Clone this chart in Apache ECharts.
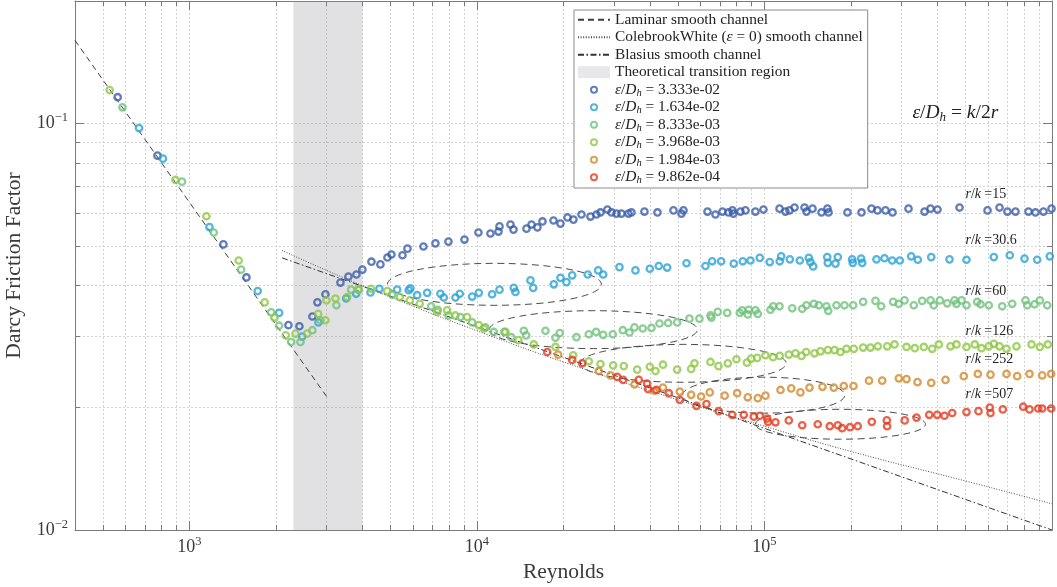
<!DOCTYPE html>
<html><head><meta charset="utf-8">
<script src="https://cdn.jsdelivr.net/npm/echarts@6/dist/echarts.min.js"></script>
<style>html,body{margin:0;padding:0;background:#fff}#c{width:1057px;height:587px}</style>
</head><body><div id="c"></div>
<script>
// ---------------- data ----------------
const xMinorTicks = [500,600,700,800,900,1000,2000,3000,4000,5000,6000,7000,8000,9000,10000,20000,30000,40000,50000,60000,70000,80000,90000,100000,200000,300000,400000,500000,600000,700000,800000,900000];
const xMajorTicks = [1000,10000,100000];
const yMinorTicks = [0.02,0.03,0.04,0.05,0.06,0.07,0.08,0.09,0.1,0.2];
const yMajorTicks = [0.01,0.1];

const laminar = [[400,0.16],[3000,0.0213]];
const colebrook = [[2100,0.0487],[3000,0.0435],[5000,0.0374],[10000,0.0309],[20000,0.0259],[50000,0.0209],[100000,0.0180],[200000,0.0156],[500000,0.0132],[1000000,0.0116]];
const blasius = [[2100,0.0467],[1000000,0.0100]];
const transition = [2300,4000];

const roughness = ['3.333e-02','1.634e-02','8.333e-03','3.968e-03','1.984e-03','9.862e-04'];
const colors = ['#3a5ca9','#2ba3d4','#6fc27c','#8fc744','#d28a2c','#e53b1f'];

const s1 = [[563,0.116],[774,0.0833],[1313,0.0504],[1579,0.0418],[2210,0.0319],[2413,0.0317],[2678,0.0335],[2787,0.0363],[2972,0.0380],[3351,0.0406],[3573,0.0420],[3809,0.0425],[3997,0.0437],[4296,0.0457],[4616,0.0450],[4883,0.0468],[5042,0.0476],[5508,0.0474],[5733,0.0492],[6515,0.0498],[7172,0.0507],[7960,0.0512],[9050,0.0518],[10120,0.0539],[11140,0.0536],[11880,0.0542],[11980,0.0558],[13080,0.0564],[13400,0.0548],[14870,0.0551],[15480,0.0564],[16230,0.0555],[16900,0.0574],[18460,0.0577],[19520,0.0567],[20650,0.0587],[21660,0.0580],[23100,0.0597],[24820,0.0590],[26040,0.0597],[26890,0.0604],[28430,0.0614],[29370,0.0604],[30570,0.0600],[31810,0.0600],[33650,0.0600],[34460,0.0604],[38240,0.0607],[42450,0.0604],[48250,0.0611],[51440,0.0600],[52270,0.0611],[63370,0.0607],[67530,0.0597],[71440,0.0607],[74950,0.0604],[77400,0.0611],[78000,0.0600],[82500,0.0607],[85900,0.0611],[93000,0.0607],[99200,0.0614],[112800,0.0617],[118300,0.0607],[122200,0.0611],[127200,0.0621],[137800,0.0621],[140000,0.0607],[146900,0.0617],[157900,0.0604],[165600,0.0617],[167000,0.0604],[194400,0.0604],[217500,0.0604],[235600,0.0617],[247200,0.0611],[263600,0.0611],[278800,0.0604],[316900,0.0617],[360300,0.0607],[378000,0.0617],[399700,0.0614],[476800,0.0621],[596800,0.0611],[656900,0.0621],[700000,0.0607],[746400,0.0607],[828400,0.0607],[876000,0.0604],[934000,0.0607],[996000,0.0617]];
const s2 = [[668,0.0974],[809,0.0819],[1174,0.0556],[1728,0.0387],[2051,0.0342],[2466,0.0299],[2810,0.0324],[3508,0.0371],[3800,0.0381],[4263,0.0384],[4580,0.0392],[5279,0.0390],[5791,0.0389],[5870,0.0393],[6194,0.0378],[6713,0.0383],[7464,0.0381],[7665,0.0373],[8419,0.0373],[8714,0.0381],[9623,0.0375],[10150,0.0383],[11290,0.0380],[11980,0.0390],[13430,0.0394],[13610,0.0385],[15350,0.0411],[15690,0.0394],[18500,0.0402],[19520,0.0417],[20480,0.0407],[21440,0.0423],[24290,0.0425],[26410,0.0435],[27480,0.0425],[31310,0.0443],[35590,0.0435],[39920,0.0439],[42890,0.0446],[45880,0.0442],[53550,0.0453],[62340,0.0446],[65790,0.0458],[70700,0.0458],[78200,0.0452],[84060,0.0458],[89400,0.0460],[96300,0.0467],[104300,0.0456],[113000,0.0458],[114300,0.0471],[122500,0.0463],[132700,0.0460],[142600,0.0467],[144500,0.0456],[147700,0.0445],[165300,0.0469],[166100,0.0454],[179900,0.0469],[176600,0.0452],[201800,0.0463],[202800,0.0454],[216900,0.0465],[218700,0.0454],[245200,0.0463],[261500,0.0466],[278100,0.0460],[295500,0.0460],[323800,0.0471],[341400,0.0462],[380200,0.0469],[440100,0.0463],[504200,0.0462],[627700,0.0469],[713200,0.0474],[802300,0.0465],[888300,0.0462],[982500,0.0471]];
const s3 = [[585,0.1095],[942,0.0719],[1215,0.0539],[1513,0.0437],[1924,0.0343],[2051,0.0318],[2258,0.0290],[2433,0.0290],[2678,0.0310],[2856,0.0328],[3245,0.0357],[3651,0.0390],[3871,0.0390],[5070,0.0379],[6931,0.0355],[7307,0.0348],[7980,0.0337],[8762,0.0334],[9623,0.0324],[10700,0.0315],[11440,0.0307],[12460,0.0307],[13150,0.0298],[14550,0.0309],[14830,0.0301],[17310,0.0309],[18750,0.0297],[19410,0.0305],[22190,0.0298],[24490,0.0303],[25980,0.0307],[27480,0.0302],[29680,0.0303],[32150,0.0310],[33920,0.0306],[35300,0.0315],[37730,0.0313],[40460,0.0314],[43140,0.0322],[46240,0.0323],[49700,0.0324],[54840,0.0331],[59400,0.0331],[64900,0.0337],[65400,0.0333],[68800,0.0344],[74200,0.0342],[82070,0.0342],[83650,0.0347],[87470,0.0339],[88180,0.0348],[93040,0.0347],[94780,0.0340],[104900,0.0348],[107200,0.0355],[112800,0.0355],[124900,0.0351],[135300,0.0350],[140000,0.0357],[148500,0.0360],[154500,0.0357],[164300,0.0355],[166600,0.0346],[178000,0.0357],[189800,0.0357],[203500,0.0357],[220400,0.0364],[243300,0.0366],[254600,0.0355],[280300,0.0364],[293200,0.0360],[306900,0.0367],[330600,0.0357],[353600,0.0366],[378000,0.0367],[388000,0.0357],[407300,0.0367],[432100,0.0361],[458100,0.0367],[465400,0.0360],[484500,0.0367],[504200,0.0357],[549400,0.0364],[564100,0.0359],[602800,0.0357],[671200,0.0355],[727200,0.0360],[808800,0.0367],[819900,0.0357],[869300,0.0359],[907100,0.0367],[962300,0.0357]];
const s4 = [[528,0.1208],[894,0.0726],[1146,0.0591],[1484,0.0460],[1827,0.0363],[1976,0.0333],[2163,0.0301],[2337,0.0304],[2568,0.0304],[2804,0.0340],[2972,0.0328],[2996,0.0367],[3220,0.0371],[3536,0.0374],[3881,0.0390],[4285,0.0392],[4872,0.0387],[5390,0.0374],[5838,0.0367],[6324,0.0360],[7271,0.0344],[7878,0.0347],[8419,0.0337],[9245,0.0334],[10150,0.0319],[10560,0.0313],[12560,0.0307],[13940,0.0293],[15760,0.0286],[18750,0.0282],[21610,0.0269],[24490,0.0260],[26890,0.0256],[29770,0.0254],[32410,0.0253],[36080,0.0248],[39920,0.0252],[41780,0.0246],[44360,0.0255],[49700,0.0248],[55590,0.0249],[57090,0.0257],[64900,0.0259],[69180,0.0253],[74550,0.0257],[79900,0.0263],[86910,0.0258],[89870,0.0264],[94320,0.0265],[100800,0.0269],[107100,0.0266],[113000,0.0268],[121500,0.0270],[128200,0.0272],[134500,0.0268],[139600,0.0274],[149200,0.0272],[156600,0.0275],[166100,0.0277],[175200,0.0277],[183800,0.0274],[192900,0.0279],[204500,0.0279],[220400,0.0281],[233700,0.0281],[247900,0.0283],[267300,0.0283],[283400,0.0286],[311900,0.0282],[333300,0.0280],[358200,0.0282],[383100,0.0279],[404000,0.0286],[443600,0.0283],[465400,0.0286],[504200,0.0282],[538800,0.0286],[568600,0.0280],[602800,0.0283],[627700,0.0287],[656900,0.0283],[694700,0.0279],[752400,0.0283],[848600,0.0286],[907100,0.0282],[967000,0.0286]];
const s5 = [[19160,0.0270],[26530,0.0246],[29130,0.0240],[35300,0.0228],[41440,0.0220],[44360,0.0224],[50750,0.0219],[55590,0.0215],[60220,0.0213],[64520,0.0218],[72700,0.0214],[80350,0.0217],[87470,0.0212],[94780,0.0211],[100800,0.0214],[113700,0.0221],[123900,0.0223],[133400,0.0218],[143400,0.0224],[159100,0.0225],[174200,0.0224],[188700,0.0226],[204000,0.0226],[230900,0.0233],[256700,0.0233],[293200,0.0236],[311900,0.0235],[340600,0.0231],[380200,0.0230],[426200,0.0234],[493400,0.0239],[552100,0.0242],[611100,0.0241],[694700,0.0242],[756600,0.0239],[835000,0.0242],[924600,0.0240],[993600,0.0242]];
const s6 = [[17550,0.0274],[21440,0.0262],[23220,0.0257],[30740,0.0238],[32250,0.0234],[36540,0.0234],[39080,0.0229],[39400,0.0222],[42110,0.0221],[46470,0.0217],[50750,0.0209],[58010,0.0202],[62850,0.0204],[69340,0.0196],[77220,0.0192],[84730,0.0192],[91800,0.0190],[96300,0.0191],[102200,0.0188],[102900,0.01845],[109200,0.0184],[121500,0.0186],[135300,0.0181],[153200,0.0182],[168700,0.0180],[179900,0.0181],[186300,0.0178],[198400,0.0179],[211100,0.0180],[236200,0.01845],[266400,0.0186],[267000,0.0180],[307400,0.0186],[337900,0.0189],[374100,0.0192],[398800,0.0192],[422800,0.0191],[449700,0.0194],[504200,0.0195],[555100,0.0196],[607700,0.0200],[611100,0.0194],[674500,0.0198],[793800,0.0201],[835000,0.0198],[895300,0.0199],[924600,0.0199],[993600,0.0199]];
const measured = [s1,s2,s3,s4,s5,s6];

// annotations (in data coordinates)
const ellipseCenters = [[11500,0.0402],[25400,0.0311],[52200,0.0257],[99300,0.02146],[183600,0.0182]];
const ellipseHalfDecades = [[0.372,0.0516],[0.362,0.0466],[0.358,0.0466],[0.282,0.0442],[0.296,0.0368]];
const rkLabels = ['15','30.6','60','126','252','507'];
const rkAnchors = [[500000,0.0668],[500000,0.0515],[500000,0.0386],[500000,0.0308],[500000,0.0263],[500000,0.0216]];
const formulaAnchor = [327000,0.1062];

// ---------------- styling ----------------
const SERIF = '"Liberation Serif","DejaVu Serif",serif';
const AX = '#7b7b7b';
const TXT = '#3a3a3a';
const GRID = {left:75, right:5, top:1, bottom:57, containLabel:false, outerBoundsMode:'none'};
const ringPath = 'path://M-6,-6L-6,-6ZM6,6L6,6ZM0,-4A4,4 0 1,1 0,4A4,4 0 1,1 0,-4ZM0,-2A2,2 0 1,0 0,2A2,2 0 1,0 0,-2Z';

const supRich = {
  b:{fontFamily:SERIF,fontSize:18,color:TXT,lineHeight:24},
  s:{fontFamily:SERIF,fontSize:12.5,color:TXT,lineHeight:11,verticalAlign:'top'}
};
function xAxisDef(grid, pos, ticks, len, main){
  return {
    type:'log', logBase:10, min:400, max:1000000, gridIndex:grid, position:pos,
    name: main ? 'Reynolds' : '', nameLocation:'middle', nameGap:27,
    nameTextStyle:{fontFamily:SERIF,fontSize:21.5,color:TXT},
    axisLine:{show:grid===0, onZero:false, lineStyle:{color:AX,width:1}},
    axisTick:{show:true, inside:true, length:len, customValues:ticks, lineStyle:{color:AX,width:1}},
    axisLabel:{show:main, customValues:xMajorTicks, margin:5,
      formatter:v=>'{b|10}{s|'+Math.round(Math.log10(v))+'}', rich:supRich},
    splitLine:{show:main, lineStyle:{color:'#d2d2d2',width:1,type:[2,2]}},
    axisPointer:{show:false}
  };
}
function yAxisDef(grid, pos, ticks, len, main){
  return {
    type:'log', logBase:10, min:0.01, max:0.2, gridIndex:grid, position:pos,
    name: main ? 'Darcy Friction Factor' : '', nameLocation:'middle', nameGap:47,
    nameTextStyle:{fontFamily:SERIF,fontSize:21.5,color:TXT},
    axisLine:{show:grid===0, onZero:false, lineStyle:{color:AX,width:1}},
    axisTick:{show:true, inside:true, length:len, customValues:ticks, lineStyle:{color:AX,width:1}},
    axisLabel:{show:main, customValues:yMajorTicks, margin:7,
      formatter:v=>'{b|10}{s|\u2212'+Math.round(-Math.log10(v))+'}', rich:supRich},
    splitLine:{show:main, lineStyle:{color:'#d2d2d2',width:1,type:[2,2]}}
  };
}

const lineItem = {color:'rgba(0,0,0,0)', borderWidth:0};
const series = [
  {type:'line', name:'Laminar smooth channel', data:laminar, symbol:'none', silent:true, z:3, itemStyle:lineItem,
   lineStyle:{color:'#3d3d3d',width:1,type:[6,4]}},
  {type:'line', name:'ColebrookWhite (\u03b5 = 0) smooth channel', data:colebrook, symbol:'none', smooth:true, silent:true, z:3, itemStyle:lineItem,
   lineStyle:{color:'#4a4a4a',width:1,type:[1,1.6]}},
  {type:'line', name:'Blasius smooth channel', data:blasius, symbol:'none', silent:true, z:3, itemStyle:lineItem,
   lineStyle:{color:'#333',width:1,type:[6,2.5,1.5,2.5]}},
  {type:'scatter', name:'Theoretical transition region', data:[], z:1, silent:true,
   markArea:{silent:true, itemStyle:{color:'rgba(140,140,150,0.26)'},
     data:[[{xAxis:transition[0]},{xAxis:transition[1]}]]}}
];
measured.forEach((d,i)=>{
  series.push({type:'scatter', name:'\u03b5/D_h = '+roughness[i], data:d, symbol:'circle', symbolSize:6.4, z:5,
    itemStyle:{color:'rgba(255,255,255,0)', borderColor:colors[i], borderWidth:2.3}, silent:true});
});

const legendData = [
  {name:'Laminar smooth channel', itemStyle:{color:'rgba(0,0,0,0)',borderWidth:0,opacity:0}},
  {name:'ColebrookWhite (\u03b5 = 0) smooth channel', itemStyle:{color:'rgba(0,0,0,0)',borderWidth:0,opacity:0}},
  {name:'Blasius smooth channel', itemStyle:{color:'rgba(0,0,0,0)',borderWidth:0,opacity:0}},
  {name:'Theoretical transition region', icon:'rect', itemStyle:{color:'#e2e2e5',borderWidth:0}}
];
roughness.forEach((r,i)=>legendData.push({name:'\u03b5/D_h = '+r, icon:ringPath,
  itemStyle:{color:colors[i], borderWidth:0, borderColor:'rgba(0,0,0,0)'}}));

const LF = 15.4;
const legendRich = {
  i:{fontFamily:SERIF,fontSize:LF,fontStyle:'italic',color:'#222',lineHeight:17.5},
  s:{fontFamily:SERIF,fontSize:10.5,fontStyle:'italic',color:'#222',lineHeight:10,verticalAlign:'bottom'}
};

const option = {
  animation:false,
  textStyle:{fontFamily:SERIF},
  grid:[Object.assign({},GRID),Object.assign({},GRID)],
  xAxis:[xAxisDef(0,'bottom',xMinorTicks,5,true), xAxisDef(0,'top',xMinorTicks,5,false),
         xAxisDef(1,'bottom',xMajorTicks,9,false), xAxisDef(1,'top',xMajorTicks,9,false)],
  yAxis:[yAxisDef(0,'left',yMinorTicks,5,true), yAxisDef(0,'right',yMinorTicks,5,false),
         yAxisDef(1,'left',[0.1],9,false), yAxisDef(1,'right',[0.1],9,false)],
  legend:{
    orient:'vertical', left:574, top:10, itemWidth:32, itemHeight:12, itemGap:0,
    padding:[1,5,2,3], borderColor:'#8a8a8a', borderWidth:1, backgroundColor:'#fff',
    selectedMode:false, data:legendData,
    textStyle:{fontFamily:SERIF,fontSize:LF,color:'#222',lineHeight:17.5,rich:legendRich},
    formatter:function(name){
      if (name.indexOf('\u03b5/D_h = ')===0) return '{i|\u03b5}/{i|D}{s|h} = '+name.slice(8);
      if (name.indexOf('Colebrook')===0) return 'ColebrookWhite ({i|\u03b5} = 0) smooth channel';
      return name;
    }
  },
  series:series
};

const chart = echarts.init(document.getElementById('c'));
chart.setOption(option);

// annotations placed through the axes' scales
const P = v => chart.convertToPixel({xAxisIndex:0, yAxisIndex:0}, v);
const graphics = [];
ellipseCenters.forEach((c,i)=>{
  const h = ellipseHalfDecades[i];
  const pc = P(c);
  const px = P([c[0]*Math.pow(10,h[0]), c[1]]);
  const py = P([c[0], c[1]*Math.pow(10,h[1])]);
  graphics.push({type:'ellipse', silent:true, z:4,
    shape:{cx:pc[0], cy:pc[1], rx:px[0]-pc[0], ry:pc[1]-py[1]},
    style:{fill:'none', stroke:'#4a4a4a', lineWidth:1, lineDash:[7,4.5]}});
});
const annRich = {
  i:{fontFamily:SERIF,fontSize:14,fontStyle:'italic',fill:'#222'},
  n:{fontFamily:SERIF,fontSize:14,fill:'#222'}
};
rkLabels.forEach((t,i)=>{
  const p = P(rkAnchors[i]);
  graphics.push({type:'text', silent:true, z:6, x:p[0], y:p[1],
    style:{text:'{i|r}{n|/}{i|k} {n|=' + t + '}', rich:annRich, verticalAlign:'middle', align:'left'}});
});
const fp = P(formulaAnchor);
graphics.push({type:'text', silent:true, z:6, x:fp[0], y:fp[1],
  style:{text:'{i|\u03b5}{n|/}{i|D}{s|h}{n| = }{i|k}{n|/2}{i|r}', verticalAlign:'middle', align:'left',
    rich:{i:{fontFamily:SERIF,fontSize:19.5,fontStyle:'italic',fill:'#222',lineHeight:22},
          n:{fontFamily:SERIF,fontSize:19.5,fill:'#222',lineHeight:22},
          s:{fontFamily:SERIF,fontSize:13,fontStyle:'italic',fill:'#222',lineHeight:11,verticalAlign:'bottom'}}}});
chart.setOption({graphic:graphics});
</script></body></html>
